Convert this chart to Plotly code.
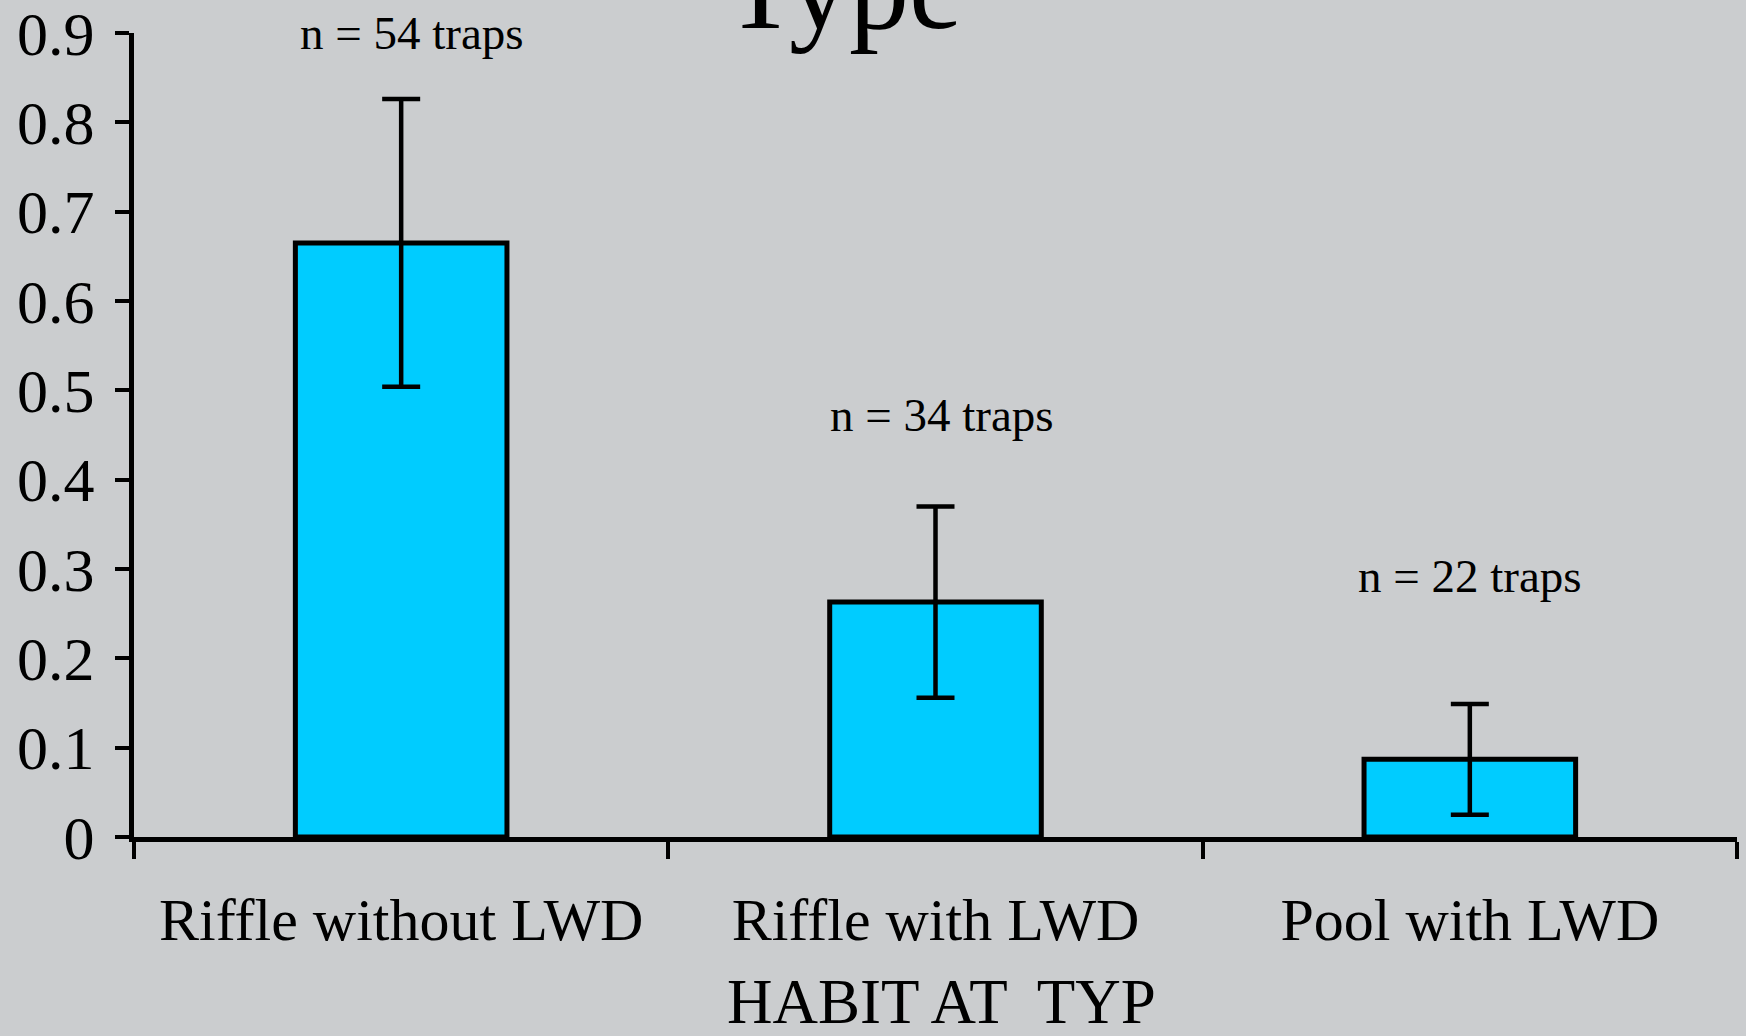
import plotly.graph_objects as go

categories = ["Riffle without LWD", "Riffle with LWD", "Pool with LWD"]
means = [0.665, 0.263, 0.087]
errors = [0.161, 0.107, 0.062]
n_labels = ["n = 54 traps", "n = 34 traps", "n = 22 traps"]
label_y = [0.9, 0.472, 0.292]
y_ticks = [0, 0.1, 0.2, 0.3, 0.4, 0.5, 0.6, 0.7, 0.8, 0.9]
y_ticktext = ["0", "0.1", "0.2", "0.3", "0.4", "0.5", "0.6", "0.7", "0.8", "0.9"]
x_title = "HABIT AT  TYP"
Y_MAX = 0.9

FONT = "Liberation Serif, Times New Roman, serif"

fig = go.Figure()
fig.add_trace(go.Bar(
    x=categories, y=means,
    marker=dict(color="#00CCFF", line=dict(color="black", width=5)),
    error_y=dict(type="data", array=errors, visible=True,
                 color="black", thickness=4.5, width=19),
    showlegend=False,
))

for cat, txt, yy, dx in zip(categories, n_labels, label_y, [11, 6, 0]):
    fig.add_annotation(x=cat, y=yy / Y_MAX, xref="x", yref="paper", text=txt,
                       showarrow=False, xshift=dx, yanchor="middle",
                       font=dict(family=FONT, size=47, color="black"))

fig.add_annotation(x=(843 - 134) / (1737 - 134), y=0.971, xref="paper", yref="paper",
                   text="Type", showarrow=False, yanchor="bottom", xanchor="center",
                   font=dict(family=FONT, size=120, color="black"))

# x-axis title placed as paper annotation
fig.add_annotation(x=(941 - 134) / (1737 - 134), y=(837 - 1002) / (837 - 33),
                   xref="paper", yref="paper", text=x_title, showarrow=False,
                   xanchor="center", yanchor="middle", borderpad=0,
                   font=dict(family=FONT, size=63, color="black"))

fig.update_layout(
    width=1746, height=1036,
    margin=dict(l=134, r=9, t=33, b=199, autoexpand=False),
    paper_bgcolor="#cbcdcf", plot_bgcolor="rgba(0,0,0,0)",
    bargap=0.604,
    font=dict(family=FONT, color="black"),
)

fig.update_xaxes(
    automargin=False,
    showline=True, linecolor="black", linewidth=5,
    ticks="outside", ticklen=17, tickwidth=4, tickcolor="black",
    tickson="boundaries", showgrid=False,
    tickfont=dict(family=FONT, size=60, color="black"),
    ticklabelstandoff=26,
)
fig.update_yaxes(
    automargin=False,
    range=[0, Y_MAX], tickvals=y_ticks, ticktext=y_ticktext,
    showline=True, linecolor="black", linewidth=5,
    ticks="outside", ticklen=14, tickwidth=4, tickcolor="black",
    showgrid=False, zeroline=False,
    tickfont=dict(family=FONT, size=62, color="black"),
    ticklabelstandoff=8, ticklabeloverflow="allow",
)

fig.write_html("out.html", config={"displayModeBar": False},
               post_script="document.body.style.margin='0';document.body.style.overflow='hidden';")
